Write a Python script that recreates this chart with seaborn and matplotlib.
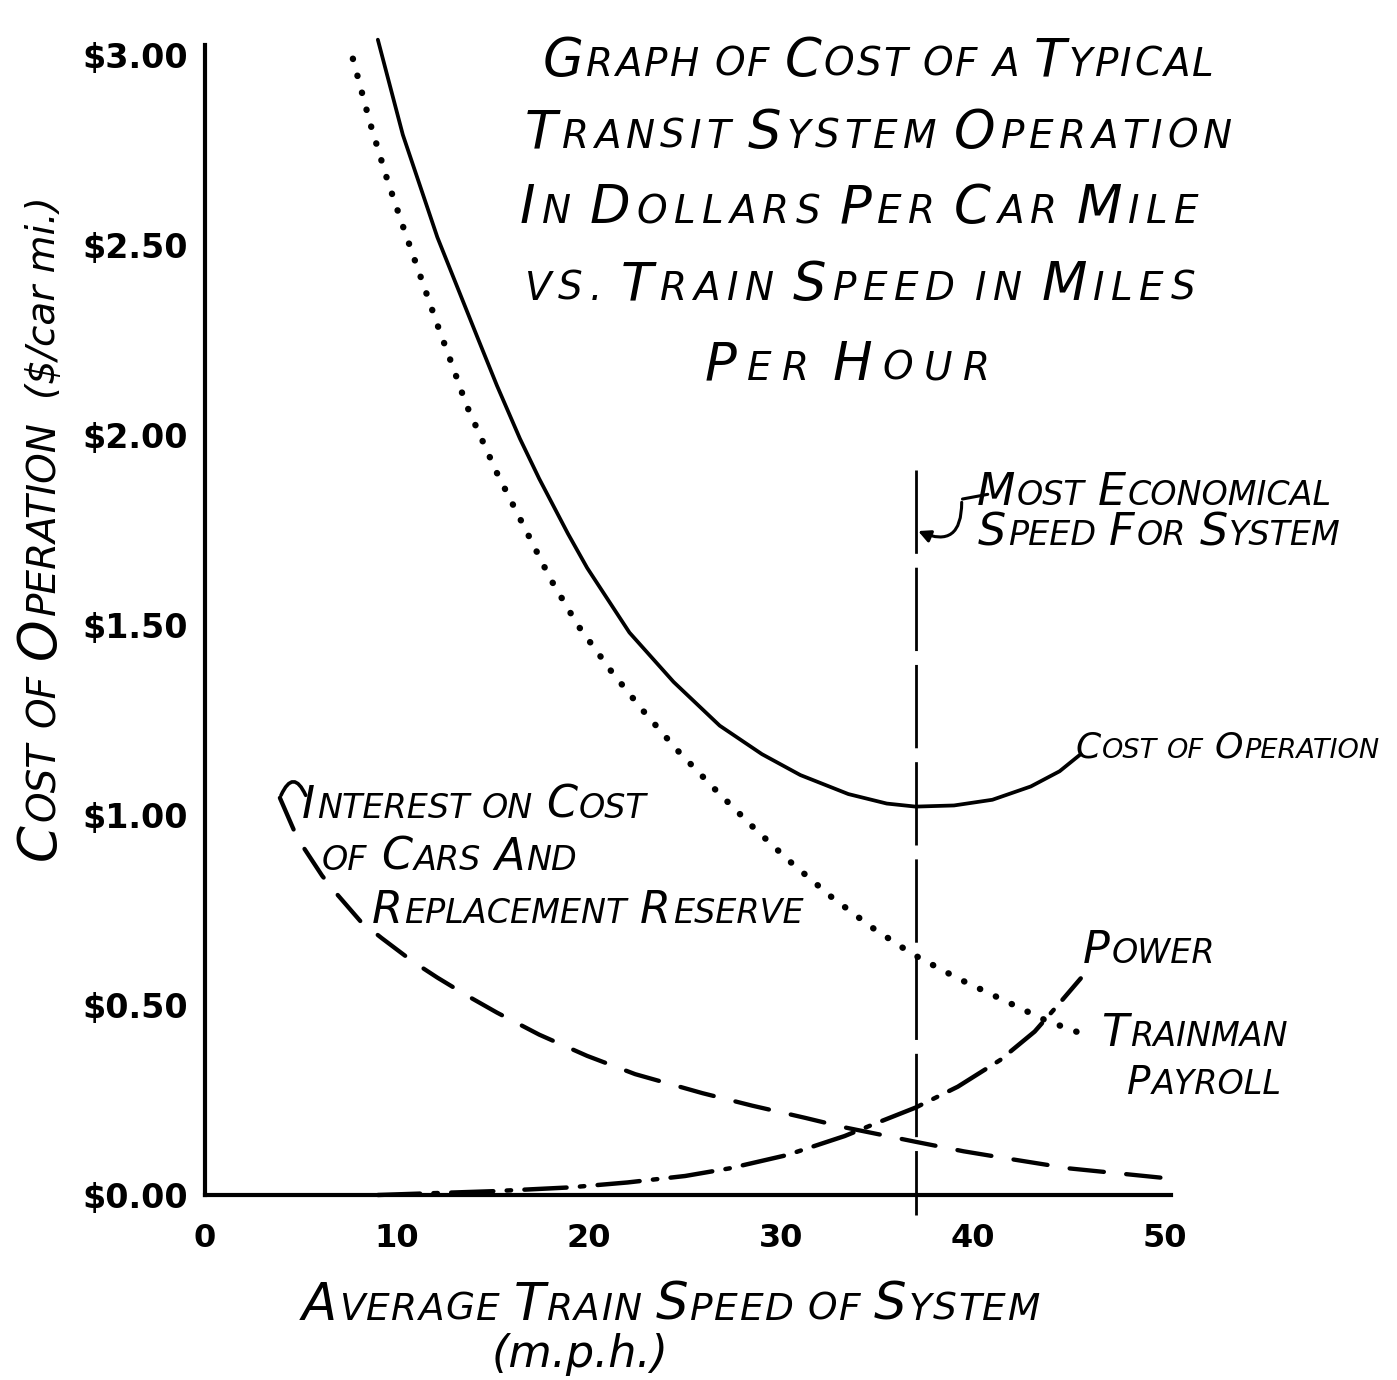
import matplotlib
matplotlib.use("Agg")
import matplotlib.pyplot as plt
import seaborn as sns
import pandas as pd

# ---------------- data ----------------
cost_speed = [9.0, 10.3, 12.1, 14.2, 15.2, 16.4, 17.4, 18.9, 19.9, 22.1, 24.4, 26.8,
              29.0, 31.0, 33.5, 35.5, 37.0, 39.0, 41.0, 43.0, 44.5, 45.6]
cost_value = [3.04, 2.79, 2.52, 2.255, 2.13, 1.99, 1.885, 1.74, 1.65, 1.48, 1.35, 1.235,
              1.16, 1.105, 1.055, 1.03, 1.022, 1.025, 1.04, 1.075, 1.115, 1.16]

payroll_speed = [7.7, 8.6, 9.5, 10.3, 11.2, 12.1, 12.9, 13.6, 15.2, 16.6, 18.0, 19.4,
                 21.2, 22.8, 24.6, 26.7, 28.5, 30.4, 32.6, 34.7, 36.8, 39.2, 41.9, 43.75, 45.9]
payroll_value = [2.99, 2.82, 2.67, 2.55, 2.42, 2.29, 2.18, 2.08, 1.90, 1.76, 1.62, 1.50,
                 1.375, 1.275, 1.17, 1.06, 0.97, 0.88, 0.785, 0.705, 0.635, 0.57, 0.505, 0.46, 0.42]

interest_speed = [3.9, 4.8, 6.1, 6.9, 8.1, 9.2, 10.8, 12.1, 13.7, 15.2, 17.4, 19.9,
                  22.4, 25.9, 28.5, 31.25, 33.3, 37.0, 39.5, 41.9, 45.0, 49.9]
interest_value = [1.045, 0.94, 0.84, 0.79, 0.72, 0.676, 0.615, 0.572, 0.523, 0.48, 0.422, 0.366,
                  0.318, 0.268, 0.235, 0.203, 0.178, 0.14, 0.115, 0.095, 0.07, 0.045]

power_speed = [9.0, 12.0, 15.0, 19.0, 22.0, 25.0, 27.3, 30.3, 33.3, 35.0, 37.0, 39.2,
               41.4, 43.2, 44.5, 45.6]
power_value = [0.0, 0.005, 0.01, 0.02, 0.033, 0.05, 0.07, 0.105, 0.155, 0.19, 0.23, 0.285,
               0.355, 0.43, 0.505, 0.57]

economical_speed = 37.0
economical_line_top = 1.908

xtick_values = [0, 10, 20, 30, 40, 50]
xtick_labels = ["0", "10", "20", "30", "40", "50"]
ytick_values = [0.0, 0.5, 1.0, 1.5, 2.0, 2.5, 3.0]
ytick_labels = ["$0.00", "$0.50", "$1.00", "$1.50", "$2.00", "$2.50", "$3.00"]

# ---------------- figure ----------------
sns.set_theme(style="white")
plt.rcParams["font.family"] = ["DejaVu Sans"]

W, H = 1397, 1380
fig = plt.figure(figsize=(W / 100, H / 100), dpi=100)
fig.patch.set_facecolor("white")
ax = fig.add_axes([205 / W, (H - 1195) / H, 966 / W, 1150 / H])
ax.set_facecolor("white")
ax.set_xlim(0, 50.3)
ax.set_ylim(0, 3.026)

series = [
    (cost_speed, cost_value, 2.7, None),
    (payroll_speed, payroll_value, 4.6, (0.05, 2.7)),
    (interest_speed, interest_value, 3.1, (8, 5.2)),
    (power_speed, power_value, 3.2, (9.5, 3.0, 1.0, 3.0)),
]
for xs, ys, lw, dash in series:
    df = pd.DataFrame({"speed": xs, "cost": ys})
    sns.lineplot(data=df, x="speed", y="cost", ax=ax, color="black", lw=lw,
                 estimator=None, sort=False, legend=False)
    ln = ax.lines[-1]
    ln.set_solid_capstyle("round")
    ln.set_dash_capstyle("round")
    ln.set_solid_joinstyle("round")
    if dash is not None:
        ln.set_dashes(dash)
    ln.set_clip_on(False)

# most economical speed line (drawn top -> bottom)
ylim_top = ax.get_ylim()[1]
vl = ax.axvline(economical_speed, ymin=economical_line_top / ylim_top, ymax=-0.053 / ylim_top,
                color="black", lw=2.0, clip_on=False)
vl.set_dashes((30, 5))

# axes styling
for s in ["top", "right"]:
    ax.spines[s].set_visible(False)
for s in ["left", "bottom"]:
    ax.spines[s].set_linewidth(3)
    ax.spines[s].set_color("black")
ax.set_xticks(xtick_values, labels=xtick_labels)
ax.set_yticks(ytick_values, labels=ytick_labels)
ax.tick_params(axis="both", length=0, colors="black")
ax.tick_params(axis="x", pad=20, labelsize=23)
ax.tick_params(axis="y", pad=12, labelsize=24)
for t in ax.get_xticklabels() + ax.get_yticklabels():
    t.set_fontweight("bold")
ax.set_xlabel("")
ax.set_ylabel("")
ax.grid(False)

# ---------------- hand-lettered small-caps text ----------------
FONT = dict(family="DejaVu Sans", style="oblique")


def runs_sc(s, big, small, track=None):
    """Split text into runs: capitals large, the rest as small capitals.
    With track (points), every letter is its own run, spaced by track."""
    runs = []
    pending = 0.0
    for ch in s:
        if ch == " ":
            pending += 0.33 * small
            continue
        size = big if ch.isupper() else small
        c = ch.upper()
        if track is None and runs and runs[-1][1] == size and pending == 0.0:
            runs[-1][0] += c
        else:
            gap = pending + (0.05 * size if track is None else track)
            runs.append([c, size, gap])
            pending = 0.0
    return runs


def runs_plain(s, size, lead=0.0):
    return [[s, size, lead]]


def draw(xp, yp, runs, rotation=0, **kw):
    fx, fy = xp / W, 1 - yp / H
    prev = None
    for txt, size, gap in runs:
        if prev is None:
            xy, coords, gap = (fx, fy), fig.transFigure, 0.0
        elif rotation == 0:
            xy, coords = (1, fy), (prev, fig.transFigure)
        else:
            xy, coords = (fx, 1), (fig.transFigure, prev)
        offset = (gap, 0) if rotation == 0 else (0, gap)
        prev = ax.annotate(txt, xy=xy, xycoords=coords, xytext=offset, textcoords="offset points",
                           fontsize=size, ha="left", va="baseline", rotation=rotation,
                           rotation_mode="anchor", annotation_clip=False, color="black",
                           **FONT, **kw)
    return prev


# title
TB, TS = 38, 28
draw(543, 76, runs_sc("Graph of Cost of a Typical", TB, TS, track=1.6))
draw(525, 148, runs_sc("Transit System Operation", TB, TS, track=3.6))
draw(520, 223, runs_sc("In Dollars Per Car Mile", TB, TS, track=4.5))
draw(525, 300, runs_sc("vs. Train Speed in Miles", TB, TS, track=4.7))
draw(705, 380, runs_sc("Per Hour", TB, TS, track=7.5))

LB, LS = 32, 24
draw(977, 505, runs_sc("Most Economical", LB, LS))
draw(978, 545, runs_sc("Speed For System", LB, LS))
draw(1075, 758, runs_sc("Cost of Operation", 26, 19.5))
draw(1083, 963, runs_sc("Power", LB, LS))
draw(1101, 1046, runs_sc("Trainman", LB, LS))
draw(1127, 1094, runs_sc("Payroll", 28, LS))
draw(302, 818, runs_sc("Interest on Cost", LB, LS))
draw(322, 870, runs_sc("of Cars And", LB, LS))
draw(372, 923, runs_sc("Replacement Reserve", LB, LS))

# axis titles
draw(302, 1320, runs_sc("Average Train Speed of System", 37, 27, track=1.1))
draw(492, 1367, runs_plain("(m.p.h.)", 32))
draw(55, 860, runs_sc("Cost of Operation", 38, 28) + runs_plain("($/car mi.)", 28, 16),
     rotation=90)

# leaders / arrows
ax.annotate("", xy=(economical_speed, 1.75), xytext=(39.4, 1.83), xycoords="data",
            arrowprops=dict(arrowstyle="-|>", color="black", lw=2.2,
                            connectionstyle="arc3,rad=-0.8", mutation_scale=18),
            annotation_clip=False)
ax.annotate("", xy=(40.9, 1.845), xytext=(39.3, 1.83), xycoords="data",
            arrowprops=dict(arrowstyle="-", color="black", lw=2.2), annotation_clip=False)
ax.annotate("", xy=(5.3, 1.045), xytext=(3.9, 1.045), xycoords="data",
            arrowprops=dict(arrowstyle="-", color="black", lw=2.6,
                            connectionstyle="arc3,rad=-1.2"), annotation_clip=False)

fig.savefig("out.png", dpi=100, facecolor="white")
